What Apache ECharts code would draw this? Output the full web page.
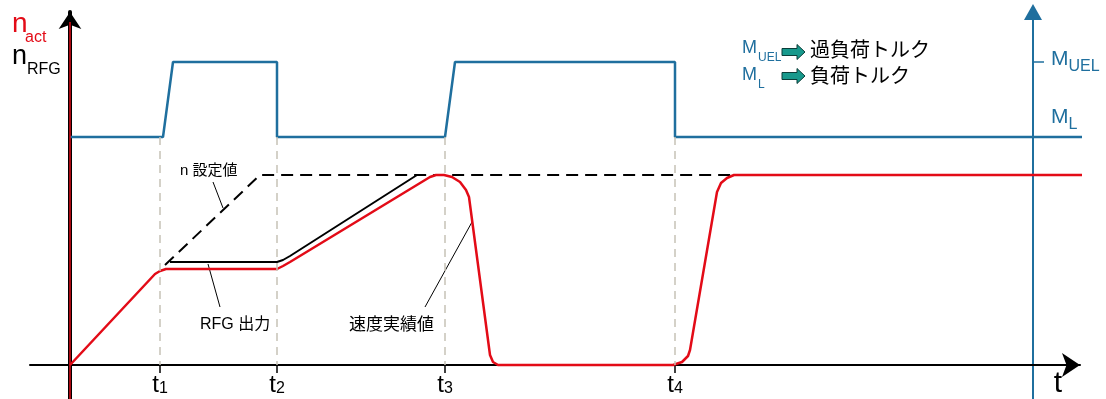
<!DOCTYPE html>
<html>
<head>
<meta charset="utf-8">
<script src="https://cdn.jsdelivr.net/npm/echarts@6/dist/echarts.min.js"></script>
<style>
html, body { margin: 0; padding: 0; background: #fff; }
#chart { width: 1106px; height: 399px; }
</style>
</head>
<body>
<div id="chart"></div>
<script>
// time units along x, speed / torque units along y
const tTicks = [90, 207, 375, 605];
const tLabels = ['1', '2', '3', '4'];
const torqueTicks = [303, 245];
const torqueLabels = ['UEL', 'L'];

// torque (blue)
const torqueX = [0, 93, 103, 207, 207, 375, 385, 605, 605, 1022];
const torqueY = [228, 228, 303, 303, 228, 228, 303, 303, 228, 228];

// n 設定値 (dashed)
const setX = [95, 190, 1020];
const setY = [100, 190, 190];

// RFG 出力 (black)
const rfgX = [100, 207, 213, 220, 347];
const rfgY = [103, 103, 105, 109, 190];

// 速度実績値 (red)
const actX = [0, 85, 90, 96, 207, 213, 220, 360, 366, 374, 382, 390, 396, 399, 420, 423, 428, 603, 612, 618, 620, 647, 651, 657, 664, 1020];
const actY = [0, 91, 94, 96, 96, 99, 103, 188, 190, 190, 188, 183, 175, 168, 10, 3, 0, 0, 3, 9, 15, 173, 182, 187, 190, 190];

// leader lines of the annotations
const leaderSetX = [143, 153];
const leaderSetY = [183, 157];
const leaderRfgX = [150, 138];
const leaderRfgY = [58, 101];
const leaderActX = [355, 402];
const leaderActY = [58, 143];

const guideTop = 228;

const BLUE = '#1f6f9e';
const RED = '#e30b17';
const FONT = "'Liberation Sans', 'Noto Sans CJK JP', sans-serif";

const zip = (xs, ys) => xs.map((x, i) => [x, ys[i]]);

const chart = echarts.init(document.getElementById('chart'));

const arrowShape = (x, y) => [
    [x, y - 3.5], [x + 15, y - 3.5], [x + 15, y - 7.5], [x + 23, y],
    [x + 15, y + 7.5], [x + 15, y + 3.5], [x, y + 3.5]
];

const txt = (text, x, y, size, color) => ({
    type: 'text',
    silent: true,
    style: {
        text: text, x: x, y: y,
        fill: color || '#000',
        font: size + 'px ' + FONT,
        textVerticalAlign: 'middle'
    }
});

const leader = (xs, ys) => ({
    type: 'line',
    data: zip(xs, ys),
    symbol: 'none',
    silent: true,
    lineStyle: {color: '#000', width: 1}
});

const option = {
    animation: false,
    grid: {left: 30, right: 26, top: 12, bottom: 0, containLabel: false, outerBoundsMode: 'none'},
    xAxis: {
        type: 'value',
        min: -40,
        max: 1010,
        name: 't',
        nameLocation: 'end',
        nameGap: -22,
        nameTextStyle: {fontSize: 30, fontFamily: FONT, color: '#000', align: 'center', verticalAlign: 'top', padding: [4, 0, 0, 0]},
        axisLine: {onZero: true, symbol: ['none', 'arrow'], symbolSize: [18, 18], lineStyle: {color: '#000', width: 2}},
        axisTick: {show: true, customValues: tTicks, length: 8, lineStyle: {color: '#000', width: 1.5}},
        axisLabel: {
            show: true,
            customValues: tTicks,
            margin: -26,
            hideOverlap: false,
            formatter: (v) => '{t|t}{s|' + tLabels[tTicks.indexOf(v)] + '}',
            rich: {
                t: {fontSize: 24, fontFamily: FONT, color: '#000', lineHeight: 24, verticalAlign: 'top'},
                s: {fontSize: 16, fontFamily: FONT, color: '#000', lineHeight: 14, verticalAlign: 'bottom'}
            }
        },
        splitLine: {show: false}
    },
    yAxis: [
        {
            type: 'value',
            min: -34,
            max: 353,
            axisLine: {onZero: true, symbol: ['none', 'arrow'], symbolSize: [17, 17], lineStyle: {color: '#000', width: 4}},
            axisTick: {show: false},
            axisLabel: {show: false},
            splitLine: {show: false}
        },
        {
            type: 'value',
            min: -34,
            max: 353,
            position: 'right',
            offset: -47,
            axisLine: {show: true, symbol: ['none', 'triangle'], symbolSize: [18, 16], lineStyle: {color: BLUE, width: 2}},
            axisTick: {show: true, customValues: [torqueTicks[0]], length: 11, lineStyle: {color: BLUE, width: 1.5}},
            axisLabel: {
                show: true,
                customValues: torqueTicks,
                margin: 18,
                formatter: (v) => '{m|M}{s|' + torqueLabels[torqueTicks.indexOf(v)] + '}',
                rich: {
                    m: {fontSize: 21, fontFamily: FONT, color: BLUE, lineHeight: 26, verticalAlign: 'top'},
                    s: {fontSize: 16, fontFamily: FONT, color: BLUE, lineHeight: 16, verticalAlign: 'bottom'}
                }
            },
            splitLine: {show: false}
        }
    ],
    graphic: [
        txt('n', 12, 24, 28, RED),
        txt('act', 25, 38, 16, RED),
        txt('n', 12, 57, 27, '#000'),
        txt('RFG', 27, 70, 16, '#000'),
        txt('M', 742, 48, 18, BLUE),
        txt('UEL', 758, 58, 12, BLUE),
        txt('過負荷トルク', 810, 51, 20, '#000'),
        txt('M', 742, 75, 18, BLUE),
        txt('L', 758, 85, 12, BLUE),
        txt('負荷トルク', 810, 77, 20, '#000'),
        {type: 'polygon', silent: true, shape: {points: arrowShape(782, 52)}, style: {fill: '#17998c', stroke: '#0b3d38', lineWidth: 1}},
        {type: 'polygon', silent: true, shape: {points: arrowShape(782, 76)}, style: {fill: '#17998c', stroke: '#0b3d38', lineWidth: 1}},
        txt('n 設定値', 180, 171, 15),
        txt('RFG 出力', 200, 325, 16),
        txt('速度実績値', 349, 325, 17)
    ],
    series: [
        {
            type: 'line',
            data: zip(torqueX, torqueY),
            symbol: 'none',
            clip: false,
            lineStyle: {color: BLUE, width: 2.5},
            markLine: {
                silent: true,
                symbol: 'none',
                label: {show: false},
                lineStyle: {color: '#c6c2b6', width: 1.5, type: [8, 6]},
                data: tTicks.map((t) => [{coord: [t, guideTop]}, {coord: [t, 0]}])
            }
        },
        {
            type: 'line',
            data: zip(setX, setY),
            symbol: 'none',
            clip: false,
            lineStyle: {color: '#000', width: 2, type: [12, 7]}
        },
        {
            type: 'line',
            data: zip(rfgX, rfgY),
            symbol: 'none',
            lineStyle: {color: '#000', width: 2}
        },
        leader(leaderSetX, leaderSetY),
        leader(leaderRfgX, leaderRfgY),
        leader(leaderActX, leaderActY),
        {
            type: 'line',
            data: [[0, -34], [0, 343]],
            symbol: 'none',
            lineStyle: {color: RED, width: 1.5}
        },
        {
            type: 'line',
            data: zip(actX, actY),
            symbol: 'none',
            clip: false,
            lineStyle: {color: RED, width: 2.5, join: 'round'}
        }
    ]
};

chart.setOption(option);
</script>
</body>
</html>
